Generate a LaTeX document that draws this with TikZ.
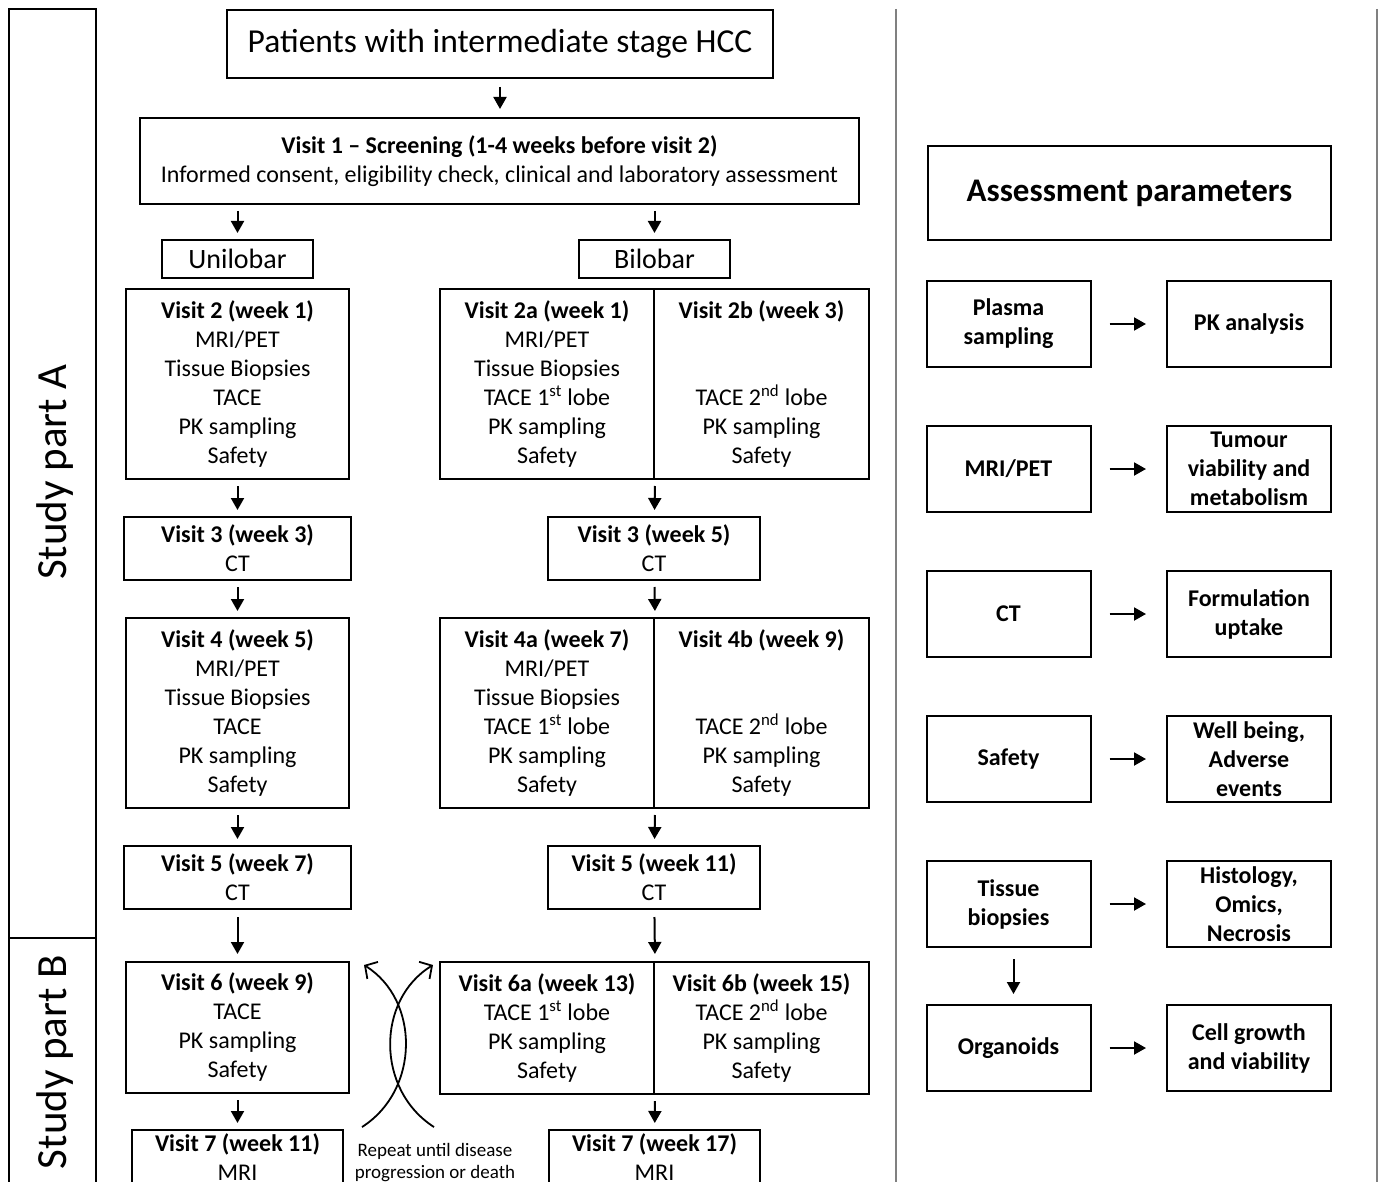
\documentclass[tikz,border=0pt]{standalone}
\usepackage{fontspec}
\setmainfont{Carlito}
\usetikzlibrary{arrows.meta}

\tikzset{
  box/.style={draw, line width=2pt, align=center, inner sep=0pt, font=\fontsize{24}{29}\selectfont},
  pbox/.style={box, font=\fontsize{24}{29}\selectfont\bfseries, minimum width=164, minimum height=86},
  arr/.style={line width=2pt, -{Triangle[length=12pt,width=13pt]}, shorten <=6pt, shorten >=6pt},
  reparr/.style={line width=1.8pt, -{Straight Barb[length=9pt,width=20pt]}}
}

\begin{document}
\begin{tikzpicture}[x=1pt, y=-1pt]
\useasboundingbox (0,0) rectangle (1379,1182);
\clip (0,0) rectangle (1379,1182);

% study parts
\draw[line width=1.3pt] (9,9) rectangle (96,938);
\draw[line width=1.3pt] (9,938) rectangle (96,1200);
\node[rotate=90, font=\fontsize{43}{50}\selectfont] (partA) at (55,472) {Study part A};
\node[rotate=90, font=\fontsize{43}{50}\selectfont] (partB) at (55,1062) {Study part B};

\draw[gray, line width=1.5pt] (896,9) -- (896,1182);
\draw[gray, line width=1.5pt] (1377,9) -- (1377,1182);

% top
\node[box, font=\fontsize{33.5}{40}\selectfont, minimum width=546, minimum height=68] (pat) at (500,44) {Patients with intermediate stage HCC};
\node[box, minimum width=719, minimum height=86] (v1) at (499.5,161)
  {\textbf{Visit 1 -- Screening (1-4 weeks before visit 2)}\\Informed consent, eligibility check, clinical and laboratory assessment};
\node[box, font=\fontsize{28}{34}\selectfont, minimum width=151, minimum height=38] (uni) at (237.5,259) {Unilobar};
\node[box, font=\fontsize{28}{34}\selectfont, minimum width=151, minimum height=38] (bil) at (654.5,259) {Bilobar};

\draw[arr, shorten <=8pt, shorten >=8pt] (pat.south) -- (pat.south |- v1.north);
\draw[arr] (v1.south -| uni.north) -- (uni.north);
\draw[arr] (v1.south -| bil.north) -- (bil.north);

% unilobar
\node[box, minimum width=223, minimum height=190] (v2) at (237.5,384)
  {\textbf{Visit 2 (week 1)}\\MRI/PET\\Tissue Biopsies\\TACE\\PK sampling\\Safety};
\node[box, minimum width=227, minimum height=63] (v3) at (237.5,548.5)
  {\textbf{Visit 3 (week 3)}\\CT};
\node[box, minimum width=223, minimum height=190] (v4) at (237.5,713)
  {\textbf{Visit 4 (week 5)}\\MRI/PET\\Tissue Biopsies\\TACE\\PK sampling\\Safety};
\node[box, minimum width=227, minimum height=63] (v5) at (237.5,877.5)
  {\textbf{Visit 5 (week 7)}\\CT};
\node[box, minimum width=223, minimum height=131] (v6) at (237.5,1027.5)
  {\textbf{Visit 6 (week 9)}\\TACE\\PK sampling\\Safety};
\node[box, minimum width=211, minimum height=54] (v7) at (237.5,1157)
  {\textbf{Visit 7 (week 11)}\\MRI};

\draw[arr] (v2) -- (v3);
\draw[arr] (v3) -- (v4);
\draw[arr] (v4) -- (v5);
\draw[arr, shorten <=7pt, shorten >=7pt] (v5) -- (v6);
\draw[arr] (v6) -- (v7);

% bilobar
\node[box, minimum width=214, minimum height=190] (v2a) at (547,384)
  {\textbf{Visit 2a (week 1)}\\MRI/PET\\Tissue Biopsies\\TACE 1\textsuperscript{st} lobe\\PK sampling\\Safety};
\node[box, minimum width=215, minimum height=190] (v2b) at (761.5,384)
  {\textbf{Visit 2b (week 3)}\\\mbox{}\\\mbox{}\\TACE 2\textsuperscript{nd} lobe\\PK sampling\\Safety};
\node[box, minimum width=212, minimum height=63] (v3b) at (654,548.5)
  {\textbf{Visit 3 (week 5)}\\CT};
\node[box, minimum width=214, minimum height=190] (v4a) at (547,713)
  {\textbf{Visit 4a (week 7)}\\MRI/PET\\Tissue Biopsies\\TACE 1\textsuperscript{st} lobe\\PK sampling\\Safety};
\node[box, minimum width=215, minimum height=190] (v4b) at (761.5,713)
  {\textbf{Visit 4b (week 9)}\\\mbox{}\\\mbox{}\\TACE 2\textsuperscript{nd} lobe\\PK sampling\\Safety};
\node[box, minimum width=212, minimum height=63] (v5b) at (654,877.5)
  {\textbf{Visit 5 (week 11)}\\CT};
\node[box, minimum width=214, minimum height=132] (v6a) at (547,1028)
  {\textbf{Visit 6a (week 13)}\\TACE 1\textsuperscript{st} lobe\\PK sampling\\Safety};
\node[box, minimum width=215, minimum height=132] (v6b) at (761.5,1028)
  {\textbf{Visit 6b (week 15)}\\TACE 2\textsuperscript{nd} lobe\\PK sampling\\Safety};
\node[box, minimum width=211, minimum height=54] (v7b) at (654.5,1157)
  {\textbf{Visit 7 (week 17)}\\MRI};

\draw[arr] (v2a.south east) -- (v3b);
\draw[arr] (v3b) -- (v4a.north east);
\draw[arr] (v4a.south east) -- (v5b);
\draw[arr, shorten <=7pt, shorten >=7pt] (v5b) -- (v6a.north east);
\draw[arr] (v6a.south east) -- (v7b);

% repeat
\coordinate (rbl) at (362,1127);
\coordinate (rbr) at (434,1127);
\coordinate (rtl) at (364,965);
\coordinate (rtr) at (433,965);
\draw[reparr] (rbl) .. controls (420,1090) and (420,1000) .. (rtl);
\draw[reparr] (rbr) .. controls (376,1090) and (376,1000) .. (rtr);
\node[align=center, font=\fontsize{19}{22}\selectfont] (rep) at (435,1163) {Repeat until disease\\progression or death};

% assessment parameters
\node[box, font=\fontsize{33}{40}\selectfont\bfseries, minimum width=403, minimum height=94] (ap) at (1129.5,193) {Assessment parameters};

\node[pbox] (plas) at (1008.5,324) {Plasma\\sampling};
\node[pbox] (pk) at (1249,324) {PK analysis};
\node[pbox] (mri) at (1008.5,469) {MRI/PET};
\node[pbox] (tum) at (1249,469) {Tumour\\viability and\\metabolism};
\node[pbox] (ct) at (1008.5,614) {CT};
\node[pbox] (form) at (1249,614) {Formulation\\uptake};
\node[pbox] (saf) at (1008.5,759) {Safety};
\node[pbox] (well) at (1249,759) {Well being,\\Adverse\\events};
\node[pbox] (tis) at (1008.5,904) {Tissue\\biopsies};
\node[pbox] (hist) at (1249,904) {Histology,\\Omics,\\Necrosis};
\node[pbox] (org) at (1008.5,1048) {Organoids};
\node[pbox] (cell) at (1249,1048) {Cell growth\\and viability};

\draw[arr, shorten <=18pt, shorten >=20pt] (plas) -- (pk);
\draw[arr, shorten <=18pt, shorten >=20pt] (mri) -- (tum);
\draw[arr, shorten <=18pt, shorten >=20pt] (ct) -- (form);
\draw[arr, shorten <=18pt, shorten >=20pt] (saf) -- (well);
\draw[arr, shorten <=18pt, shorten >=20pt] (tis) -- (hist);
\draw[arr, shorten <=18pt, shorten >=20pt] (org) -- (cell);
\draw[arr, shorten <=11pt, shorten >=10pt] ([xshift=5]tis.south) -- ([xshift=5]org.north);

\end{tikzpicture}
\end{document}
